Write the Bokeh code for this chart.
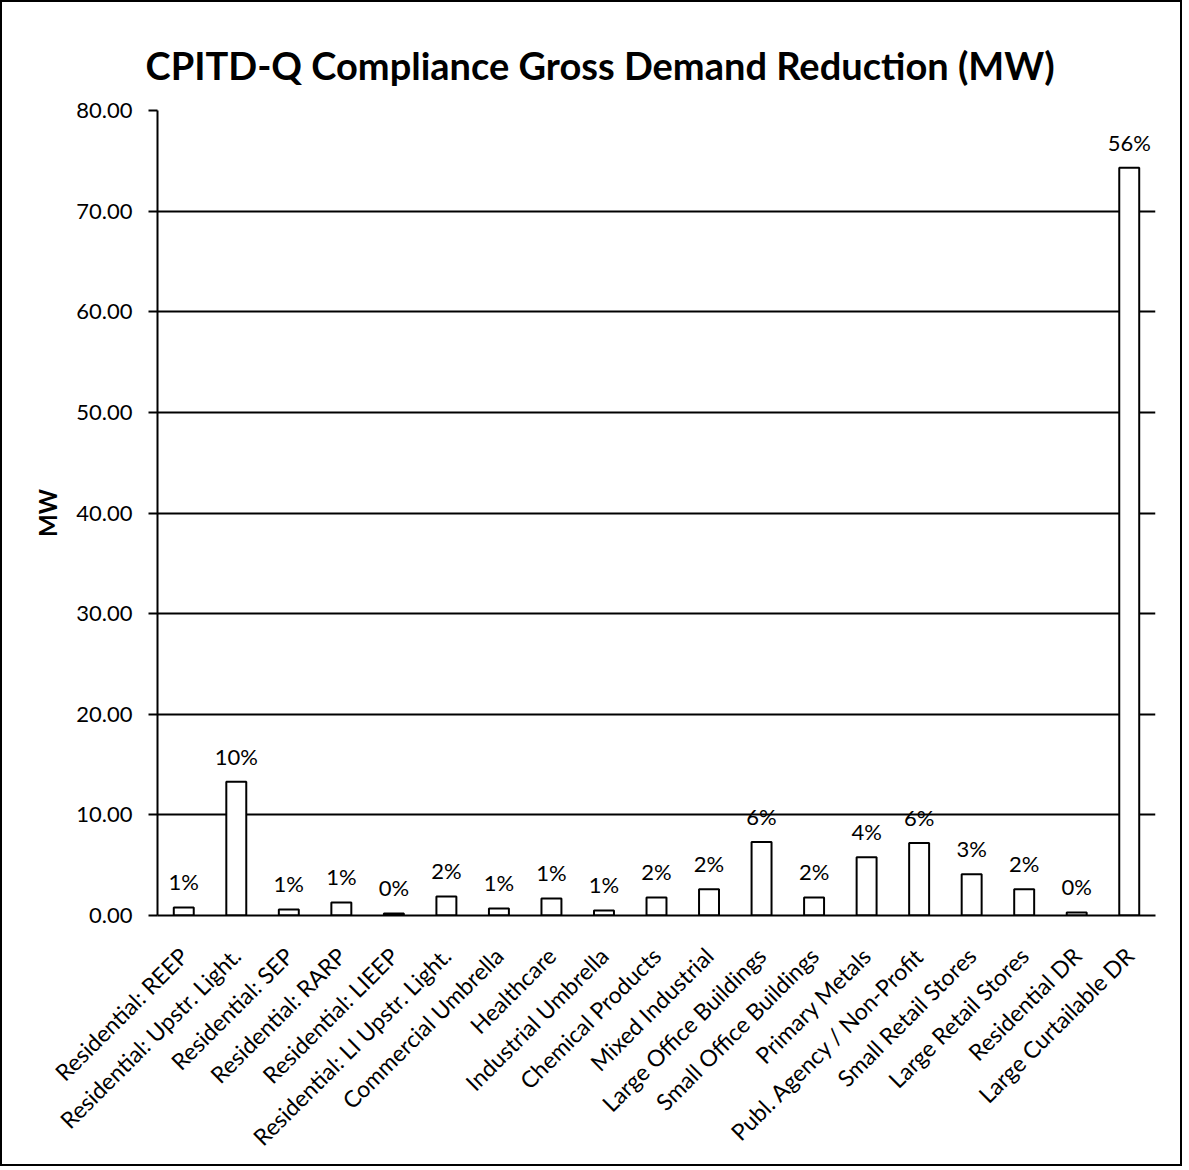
from bokeh.plotting import figure
from bokeh.models import ColumnDataSource, LabelSet, NumeralTickFormatter, SingleIntervalTicker, Range1d
from bokeh.core.properties import value
from bokeh.embed import file_html
from bokeh.resources import INLINE
from math import pi

categories = [
    "Residential: REEP", "Residential: Upstr. Light.", "Residential: SEP", "Residential: RARP",
    "Residential: LIEEP", "Residential: LI Upstr. Light.", "Commercial Umbrella", "Healthcare",
    "Industrial Umbrella", "Chemical Products", "Mixed Industrial", "Large Office Buildings",
    "Small Office Buildings", "Primary Metals", "Publ. Agency / Non-Profit", "Small Retail Stores",
    "Large Retail Stores", "Residential DR", "Large Curtailable DR",
]
mw_values = [0.8, 13.3, 0.6, 1.3, 0.2, 1.9, 0.7, 1.7, 0.5, 1.8, 2.6, 7.3, 1.8, 5.8, 7.2, 4.1, 2.6, 0.3, 74.3]
pct_labels = ["1%", "10%", "1%", "1%", "0%", "2%", "1%", "1%", "1%", "2%", "2%", "6%", "2%", "4%", "6%", "3%", "2%", "0%", "56%"]

FONT = "Lato"

src = ColumnDataSource(dict(cat=categories, val=mw_values, pct=pct_labels))

p = figure(
    x_range=categories, y_range=Range1d(0, 80),
    width=1182, height=1166, output_backend="svg", toolbar_location=None,
    min_border_left=155, min_border_right=29, min_border_top=108, min_border_bottom=253,
    title="CPITD-Q Compliance Gross Demand Reduction (MW)",
    styles={"border": "2px solid black"},
)
p.title.text_font = FONT
p.title.text_font_style = "bold"
p.title.text_font_size = "38px"
p.title.align = "left"
p.title.text_color = "black"
p.title.standoff = 46
p.title.offset = -12

p.outline_line_color = None
p.background_fill_color = "white"
p.border_fill_color = "white"

p.vbar(x="cat", top="val", width=0.38, source=src, fill_color="white", line_color="black", line_width=2)

labels = LabelSet(x="cat", y="val", text="pct", source=src, y_offset=12,
                  text_align="center", text_baseline="bottom",
                  text_font=value(FONT), text_font_size="22px", text_color="black")
p.add_layout(labels)

p.xgrid.grid_line_color = None
p.ygrid.grid_line_color = "black"
p.ygrid.grid_line_width = 2
p.ygrid.ticker = SingleIntervalTicker(interval=10)

ya = p.yaxis[0]
ya.ticker = SingleIntervalTicker(interval=10)
ya.formatter = NumeralTickFormatter(format="0.00")
ya.major_label_text_font = FONT
ya.major_label_text_font_size = "22px"
ya.major_label_text_color = "black"
ya.major_tick_out = 9
ya.major_tick_in = 0
ya.minor_tick_out = 0
ya.minor_tick_in = 0
ya.major_tick_line_color = "black"
ya.major_tick_line_width = 2
ya.axis_line_color = "black"
ya.axis_line_width = 2
ya.major_label_standoff = 16
ya.axis_label = "MW"
ya.axis_label_text_font = FONT
ya.axis_label_text_font_style = "bold"
ya.axis_label_text_font_size = "24px"
ya.axis_label_text_color = "black"
ya.axis_label_standoff = 11

xa = p.xaxis[0]
xa.major_label_orientation = pi / 4
xa.major_label_text_font = FONT
xa.major_label_text_font_size = "23px"
xa.major_label_text_color = "black"
xa.major_tick_line_color = None
xa.axis_line_color = "black"
xa.axis_line_width = 2
xa.major_label_standoff = 30

open("out.html", "w").write(file_html(p, INLINE))
